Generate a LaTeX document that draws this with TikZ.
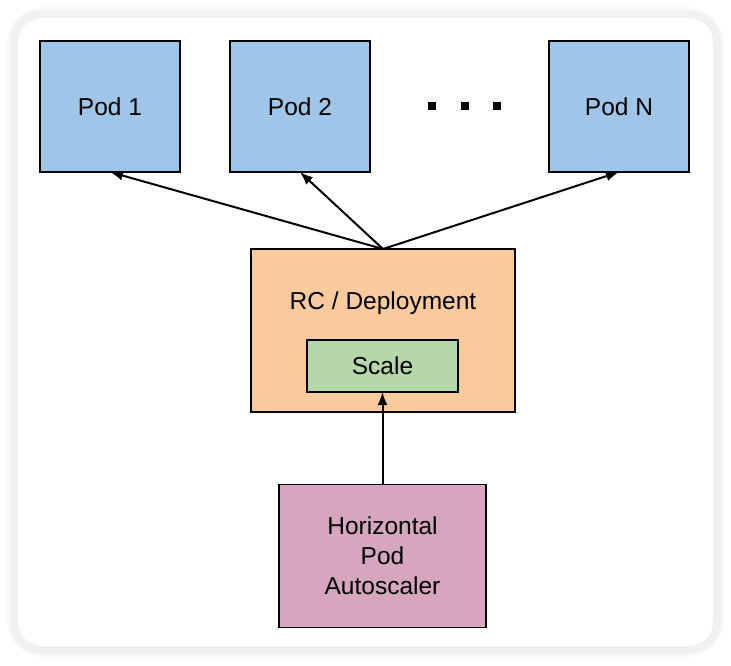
\documentclass[tikz,border=0pt]{standalone}
\usepackage{fontspec}
\setmainfont{Liberation Sans}
\usepackage{xcolor}
\usetikzlibrary{arrows.meta, positioning, calc}

\definecolor{podblue}{HTML}{9FC5E8}
\definecolor{rcorange}{HTML}{F9CB9C}
\definecolor{scalegreen}{HTML}{B6D7A8}
\definecolor{hpapink}{HTML}{D5A6BD}

\begin{document}
\begin{tikzpicture}[
    x=1pt, y=-1pt,
    pod/.style={rectangle, draw=black, fill=podblue, line width=1.8pt, minimum width=140pt, minimum height=131pt, inner sep=0pt, outer sep=0pt, font=\fontsize{24.5}{30}\selectfont},
    ctrl/.style={rectangle, draw=black, fill=rcorange, line width=1.8pt, minimum width=264pt, minimum height=163pt, inner sep=0pt, outer sep=0pt},
    scalebox/.style={rectangle, draw=black, fill=scalegreen, line width=1.8pt, minimum width=151pt, minimum height=52pt, inner sep=0pt, outer sep=0pt, font=\fontsize{24.5}{30}\selectfont},
    hpabox/.style={rectangle, draw=black, fill=hpapink, line width=1.8pt, minimum width=207pt, minimum height=143pt, inner sep=0pt, outer sep=0pt, align=center, font=\fontsize{24.5}{30}\selectfont},
    dot/.style={rectangle, fill=black, minimum size=8pt, inner sep=0pt},
    arrow/.style={-{Latex[length=13pt, width=10pt]}, line width=2pt, draw=black}
]
    \useasboundingbox (0,0) rectangle (731,665);

    % Frame
    \draw[line width=14pt, draw=gray!5, rounded corners=30pt] (14,14) rectangle (717,650);
    \draw[line width=8pt, draw=gray!11, fill=white, rounded corners=28pt] (14,14) rectangle (717,650);

    % Pods
    \node[pod] (pod1) at (110,106.5) {Pod 1};
    \node[pod] (pod2) at (300,106.5) {Pod 2};
    \node[pod] (podn) at (619,106.5) {Pod N};
    \foreach \i/\x in {1/432, 2/465, 3/497}
        \node[dot] (dot\i) at (\x,106) {};

    % RC / Deployment
    \node[ctrl] (rc) at (383,330.5) {};
    \node[font=\fontsize{24.5}{30}\selectfont] (rclabel) at (383,303) {RC / Deployment};
    \node[scalebox] (scale) at (382.5,366) {Scale};

    % Autoscaler
    \node[hpabox] (hpa) at (382.5,556) {Horizontal\\Pod\\Autoscaler};

    % Flows
    \draw[arrow] (rc.north) -- (pod1.south);
    \draw[arrow] (rc.north) -- (pod2.south);
    \draw[arrow] (rc.north) -- (podn.south);
    \draw[arrow] (hpa.north) -- (scale.south);

\end{tikzpicture}
\end{document}
